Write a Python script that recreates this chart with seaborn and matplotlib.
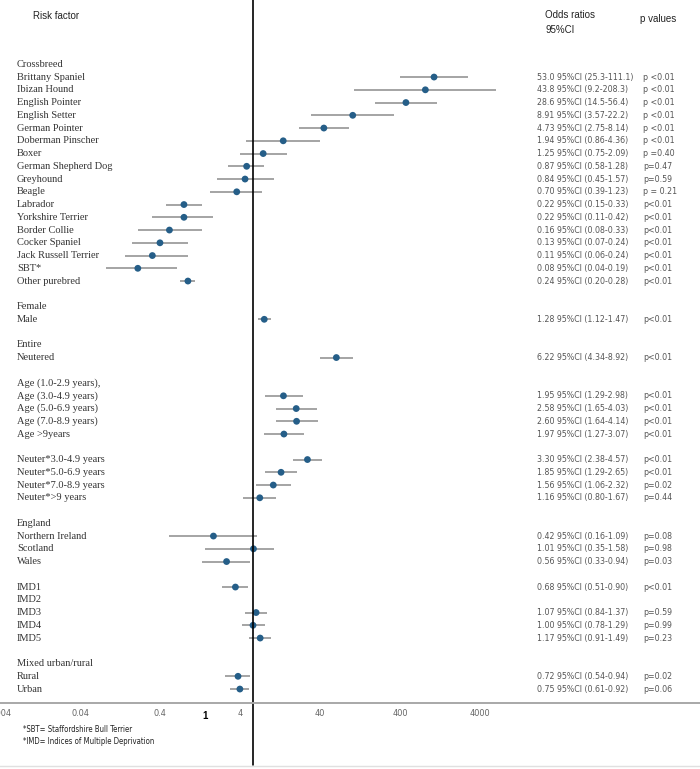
import numpy as np
import pandas as pd
import matplotlib.pyplot as plt
import matplotlib.transforms as mtransforms
import seaborn as sns

# rows of the forest plot ('' = spacer row, empty values = reference level)
labels = ['Crossbreed', 'Brittany Spaniel', 'Ibizan Hound', 'English Pointer', 'English Setter',
          'German Pointer', 'Doberman Pinscher', 'Boxer', 'German Shepherd Dog', 'Greyhound',
          'Beagle', 'Labrador', 'Yorkshire Terrier', 'Border Collie', 'Cocker Spaniel',
          'Jack Russell Terrier', 'SBT*', 'Other purebred', '',
          'Female', 'Male', '',
          'Entire', 'Neutered', '',
          'Age (1.0-2.9 years),', 'Age (3.0-4.9 years)', 'Age (5.0-6.9 years)',
          'Age (7.0-8.9 years)', 'Age >9years', '',
          'Neuter*3.0-4.9 years', 'Neuter*5.0-6.9 years', 'Neuter*7.0-8.9 years',
          'Neuter*>9 years', '',
          'England', 'Northern Ireland', 'Scotland', 'Wales', '',
          'IMD1', 'IMD2', 'IMD3', 'IMD4', 'IMD5', '',
          'Mixed urban/rural', 'Rural', 'Urban']
or_txt = ['', '53.0', '43.8', '28.6', '8.91', '4.73', '1.94', '1.25', '0.87', '0.84',
          '0.70', '0.22', '0.22', '0.16', '0.13', '0.11', '0.08', '0.24', '',
          '', '1.28', '',
          '', '6.22', '',
          '', '1.95', '2.58', '2.60', '1.97', '',
          '3.30', '1.85', '1.56', '1.16', '',
          '', '0.42', '1.01', '0.56', '',
          '0.68', '', '1.07', '1.00', '1.17', '',
          '', '0.72', '0.75']
lo_txt = ['', '25.3', '9.2', '14.5', '3.57', '2.75', '0.86', '0.75', '0.58', '0.45',
          '0.39', '0.15', '0.11', '0.08', '0.07', '0.06', '0.04', '0.20', '',
          '', '1.12', '',
          '', '4.34', '',
          '', '1.29', '1.65', '1.64', '1.27', '',
          '2.38', '1.29', '1.06', '0.80', '',
          '', '0.16', '0.35', '0.33', '',
          '0.51', '', '0.84', '0.78', '0.91', '',
          '', '0.54', '0.61']
hi_txt = ['', '111.1', '208.3', '56.4', '22.2', '8.14', '4.36', '2.09', '1.28', '1.57',
          '1.23', '0.33', '0.42', '0.33', '0.24', '0.24', '0.19', '0.28', '',
          '', '1.47', '',
          '', '8.92', '',
          '', '2.98', '4.03', '4.14', '3.07', '',
          '4.57', '2.65', '2.32', '1.67', '',
          '', '1.09', '1.58', '0.94', '',
          '0.90', '', '1.37', '1.29', '1.49', '',
          '', '0.94', '0.92']
p_txt = ['', 'p <0.01', 'p <0.01', 'p <0.01', 'p <0.01', 'p <0.01', 'p <0.01', 'p =0.40',
         'p=0.47', 'p=0.59', 'p = 0.21', 'p<0.01', 'p<0.01', 'p<0.01', 'p<0.01', 'p<0.01',
         'p<0.01', 'p<0.01', '',
         '', 'p<0.01', '',
         '', 'p<0.01', '',
         '', 'p<0.01', 'p<0.01', 'p<0.01', 'p<0.01', '',
         'p<0.01', 'p<0.01', 'p=0.02', 'p=0.44', '',
         '', 'p=0.08', 'p=0.98', 'p=0.03', '',
         'p<0.01', '', 'p=0.59', 'p=0.99', 'p=0.23', '',
         '', 'p=0.02', 'p=0.06']
axis_ticks = [0.004, 0.04, 0.4, 4, 40, 400, 4000]
axis_ticklabels = ['0.004', '0.04', '0.4', '4', '40', '400', '4000']

tofloat = lambda v: float(v) if v else np.nan
df = pd.DataFrame({
    'label': labels,
    'pos': np.arange(len(labels)),
    'or': [tofloat(v) for v in or_txt],
    'lo': [tofloat(v) for v in lo_txt],
    'hi': [tofloat(v) for v in hi_txt],
})

sns.set_theme(style='white')
serif = ['Liberation Serif', 'DejaVu Serif']
cond = dict(family=['DejaVu Sans'], fontstretch='condensed')
head = ['Liberation Sans', 'DejaVu Sans']

W, H = 700, 769
fig = plt.figure(figsize=(W / 100, H / 100), dpi=100)
ax = fig.add_axes([0, 0, 1, 1])

d = df.dropna(subset=['or'])
ax.hlines(d['pos'], d['lo'], d['hi'], color='#8c8c8c', lw=1.1, zorder=2)
sns.scatterplot(data=d, x='or', y='pos', ax=ax, color='#255e88', s=24,
                edgecolor='none', zorder=3, legend=False)

ax.set_xscale('log')
ax.set_xlim(10 ** (-253 / 105), 10 ** (447 / 105))
row0, step = 64.3, 12.75
ax.set_ylim((H - row0) / step, -row0 / step)
ax.axvline(1, ymin=4 / H, ymax=1, color='black', lw=1.2, zorder=4)
ax.set_axis_off()

tr = mtransforms.blended_transform_factory(ax.transAxes, ax.transData)
for i, row in df.iterrows():
    if row['label']:
        ax.text(17 / W, row['pos'], row['label'], transform=tr, va='center', ha='left',
                fontsize=7.5, family=serif, color='#333333')
    if or_txt[i]:
        ax.text(537 / W, row['pos'], f"{or_txt[i]} 95%CI ({lo_txt[i]}-{hi_txt[i]})",
                transform=tr, va='center', ha='left', fontsize=6.3, color='#555555', **cond)
        ax.text(643 / W, row['pos'], p_txt[i], transform=tr, va='center', ha='left',
                fontsize=6.3, color='#555555', **cond)

# headers
fig.text(33 / W, 1 - 16 / H, 'Risk factor', va='center', ha='left', fontsize=7,
         family=head, color='#222222')
fig.text(545 / W, 1 - 15 / H, 'Odds ratios', va='center', ha='left', fontsize=7,
         family=head, color='#222222')
fig.text(545 / W, 1 - 30 / H, '95%CI', va='center', ha='left', fontsize=7,
         family=head, color='#222222')
fig.text(640 / W, 1 - 19 / H, 'p values', va='center', ha='left', fontsize=7,
         family=head, color='#222222')

# bottom axis line with its own labels
axt = fig.add_axes([0, (H - 705) / H, 1, 2 / H], facecolor='none')
axt.set_xscale('log')
lo_dec = np.log10(0.4) - 157 / 80.5
axt.set_xlim(10 ** lo_dec, 10 ** (lo_dec + W / 80.5))
for s in ['left', 'right', 'bottom']:
    axt.spines[s].set_visible(False)
axt.spines['top'].set_color('#a8a8a8')
axt.spines['top'].set_linewidth(1.4)
axt.set_xticks(axis_ticks)
axt.set_xticklabels(axis_ticklabels, fontsize=6.6, color='#666666', **cond)
axt.xaxis.set_minor_locator(plt.NullLocator())
axt.tick_params(axis='x', which='both', length=0, pad=3)
axt.set_yticks([])

fig.text(205 / W, 1 - 716 / H, '1', ha='center', va='center', fontsize=7,
         fontweight='bold', family=head, color='black')
fig.text(23 / W, 1 - 729 / H, '*SBT= Staffordshire Bull Terrier', ha='left', va='center',
         fontsize=5.6, color='#222222', **cond)
fig.text(23 / W, 1 - 742 / H, '*IMD= Indices of Multiple Deprivation', ha='left',
         va='center', fontsize=5.6, color='#222222', **cond)

# faint baseline with regular tick marks
axb = fig.add_axes([0, 3 / H, 1, 2 / H], facecolor='none')
axb.set_xlim(0, W)
axb.set_xticks(np.arange(32, W, 60.6))
axb.set_yticks([])
axb.tick_params(axis='x', length=3, color='#d8d8d8', labelbottom=False)
for s in ['left', 'right', 'top']:
    axb.spines[s].set_visible(False)
axb.spines['bottom'].set_color('#e0e0e0')
axb.spines['bottom'].set_linewidth(1)

fig.savefig('out.png', dpi=100)
